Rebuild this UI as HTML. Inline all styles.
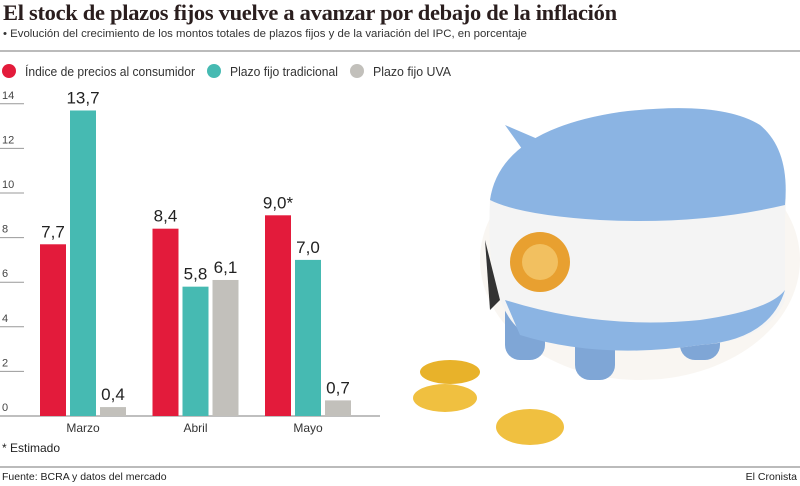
<!DOCTYPE html>
<html><head><meta charset="utf-8"><style>
body{margin:0;width:800px;height:486px;background:#fff;overflow:hidden;position:relative;font-family:"Liberation Sans",sans-serif;color:#222}
.abs{position:absolute;white-space:nowrap}
</style></head><body>
<div class="abs" style="left:3px;top:0px;font-family:'Liberation Serif',serif;font-weight:bold;font-size:22.5px;color:#2a1e1e;letter-spacing:-0.3px">El stock de plazos fijos vuelve a avanzar por debajo de la inflación</div>
<div class="abs" style="left:3px;top:28px;font-size:11.4px;color:#333">• Evolución del crecimiento de los montos totales de plazos fijos y de la variación del IPC, en porcentaje</div>
<div class="abs" style="left:0;top:50px;width:800px;height:2px;background:#bbb"></div>
<svg class="abs" style="left:0;top:0" width="800" height="486">
<g id="legend" font-size="12.5" fill="#333"></g>
<g id="piggy">
<ellipse cx="640" cy="260" rx="160" ry="120" fill="#f7f2ec" opacity="0.7"/>
<ellipse cx="450" cy="372" rx="30" ry="12" fill="#e8b22a"/>
<ellipse cx="445" cy="398" rx="32" ry="14" fill="#f0c040"/>
<ellipse cx="530" cy="427" rx="34" ry="18" fill="#f0c040"/>
<rect x="505" y="260" width="40" height="100" rx="15" fill="#7fa6d6"/>
<rect x="575" y="270" width="40" height="110" rx="15" fill="#7fa6d6"/>
<rect x="680" y="270" width="40" height="90" rx="15" fill="#7fa6d6"/>
<path d="M490 200 Q500 130 620 112 Q720 100 760 125 Q790 150 785 220 L785 300 Q770 340 700 345 Q600 360 520 330 Q485 300 490 200Z" fill="#f4f4f4"/>
<path d="M490 200 Q500 130 620 112 Q720 100 760 125 Q790 150 785 205 Q700 225 600 220 Q520 215 490 200Z" fill="#8bb4e3"/>
<path d="M505 300 Q600 330 700 320 Q770 310 785 290 Q770 340 700 345 Q600 360 520 335Z" fill="#8bb4e3"/>
<path d="M505 125 L540 140 L530 160Z" fill="#8bb4e3"/>
<circle cx="540" cy="262" r="30" fill="#e8a030"/>
<circle cx="540" cy="262" r="18" fill="#f2c060"/>
<path d="M485 240 L500 300 L490 310 Z" fill="#333"/>
</g>
<g id="axes"></g><g id="bars"></g>
</svg>
<div class="abs" style="left:2px;top:441px;font-size:12px">* Estimado</div>
<div class="abs" style="left:0;top:466px;width:800px;height:2px;background:#bbb"></div>
<div class="abs" style="left:2px;top:471px;font-size:10.5px">Fuente: BCRA y datos del mercado</div>
<div class="abs" style="right:3px;top:471px;font-size:10.5px">El Cronista</div>
<script>
const categories=["Marzo","Abril","Mayo"];
const ipc=[7.7,8.4,9.0];
const tradicional=[13.7,5.8,7.0];
const uva=[0.4,6.1,0.7];
const ipcLabels=["7,7","8,4","9,0*"];
const tradLabels=["13,7","5,8","7,0"];
const uvaLabels=["0,4","6,1","0,7"];
const yTicks=[0,2,4,6,8,10,12,14];
const seriesNames=["Índice de precios al consumidor","Plazo fijo tradicional","Plazo fijo UVA"];
const colors=["#e31b3b","#46bab2","#c2c0bb"];
const NS="http://www.w3.org/2000/svg";
const y0=416,pxPer=22.3;
const y=v=>y0-v*pxPer;
const x=i=>83+i*112.5;
function mk(t,a,p){const e=document.createElementNS(NS,t);for(const k in a)e.setAttribute(k,a[k]);if(p)p.appendChild(e);return e;}
const axes=document.getElementById('axes'),bars=document.getElementById('bars'),leg=document.getElementById('legend');
yTicks.forEach(t=>{
 const l=mk('line',{x1:0,x2:24,y1:y(t),y2:y(t),stroke:'#999','stroke-width':1},axes);
 
 
 const tx=mk('text',{x:2,y:y(t)-5,'font-size':11,fill:'#444'},axes);tx.textContent=t;
 
 
});
const base=mk('line',{x1:0,x2:380,y1:y0,y2:y0,stroke:'#999','stroke-width':1.2},axes);


const series=[ipc,tradicional,uva],labels=[ipcLabels,tradLabels,uvaLabels];
categories.forEach((c,i)=>{
 const ct=mk('text',{x:x(i),y:432,'font-size':12,fill:'#333','text-anchor':'middle'},axes);ct.textContent=c;
 
 
 series.forEach((s,j)=>{
  const bx=x(i)-43+j*30;
  const r=mk('rect',{x:bx,y:y(s[i]),width:26,height:s[i]*pxPer,fill:colors[j]},bars);
  
  
  const vt=mk('text',{x:bx+13,y:y(s[i])-7,'font-size':17,fill:'#222','text-anchor':'middle'},bars);
  vt.textContent=labels[j][i];
  
  
 });
});
const lxs=[9,214,357];const lw=[170,108,78];
seriesNames.forEach((n,j)=>{
 const g=mk('g',{},leg);
 
 
 mk('circle',{cx:lxs[j],cy:71,r:7,fill:colors[j]},g);
 const t=mk('text',{x:lxs[j]+16,y:76,textLength:lw[j],lengthAdjust:'spacingAndGlyphs'},g);t.textContent=n;
});
</script>
</body></html>
